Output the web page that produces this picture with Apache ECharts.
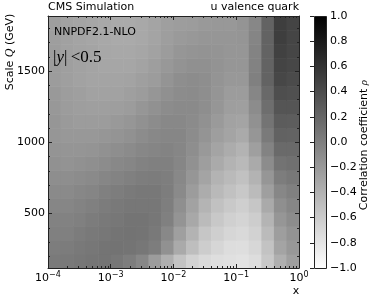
<!DOCTYPE html>
<html><head><meta charset="utf-8">
<script src="https://cdn.jsdelivr.net/npm/echarts@6/dist/echarts.min.js"></script>
<style>html,body{margin:0;padding:0;background:#fff}#c{width:374px;height:302px}</style>
</head><body><div id="c"></div>
<script>
// x bin edges (log spaced, 0.2 decade)
const xBinEdges = [0.0001, 0.0001585, 0.0002512, 0.0003981, 0.000631, 0.001, 0.001585, 0.002512, 0.003981, 0.00631, 0.01, 0.01585, 0.02512, 0.03981, 0.0631, 0.1, 0.1585, 0.2512, 0.3981, 0.631, 1];
// Q bin edges (GeV)
const qBinEdges = [118, 216, 314, 412, 510, 608, 706, 804, 902, 1000, 1098, 1196, 1294, 1392, 1490, 1588, 1686, 1784, 1884];
// correlation coefficient rows, one per Q bin (lowest Q first), one value per x bin
const rhoQ01 = [0.04,0.05,0.07,0.08,0.09,0.07,0.02,-0.06,-0.22,-0.37,-0.53,-0.65,-0.71,-0.74,-0.76,-0.77,-0.73,-0.57,-0.37,-0.25];
const rhoQ02 = [0.02,0.03,0.05,0.07,0.09,0.10,0.09,0.07,0.02,-0.14,-0.33,-0.49,-0.61,-0.68,-0.73,-0.74,-0.69,-0.53,-0.29,-0.19];
const rhoQ03 = [0.00,0.00,0.03,0.05,0.07,0.09,0.10,0.09,0.05,-0.07,-0.25,-0.40,-0.55,-0.62,-0.68,-0.70,-0.65,-0.47,-0.24,-0.15];
const rhoQ04 = [-0.02,-0.02,0.00,0.03,0.05,0.07,0.09,0.09,0.07,0.00,-0.16,-0.32,-0.47,-0.57,-0.63,-0.66,-0.61,-0.41,-0.18,-0.10];
const rhoQ05 = [-0.05,-0.05,-0.03,0.00,0.03,0.05,0.07,0.07,0.07,0.01,-0.12,-0.27,-0.41,-0.51,-0.58,-0.62,-0.55,-0.33,-0.12,-0.05];
const rhoQ06 = [-0.08,-0.08,-0.06,-0.04,0.00,0.02,0.04,0.06,0.06,0.02,-0.08,-0.22,-0.35,-0.45,-0.51,-0.57,-0.47,-0.25,-0.06,0.00];
const rhoQ07 = [-0.11,-0.11,-0.10,-0.08,-0.05,-0.03,0.00,0.02,0.03,0.01,-0.07,-0.18,-0.29,-0.40,-0.46,-0.51,-0.40,-0.18,0.02,0.06];
const rhoQ08 = [-0.14,-0.15,-0.14,-0.12,-0.10,-0.07,-0.05,-0.02,0.00,0.00,-0.05,-0.14,-0.24,-0.33,-0.40,-0.45,-0.33,-0.10,0.10,0.12];
const rhoQ09 = [-0.16,-0.17,-0.17,-0.16,-0.14,-0.11,-0.09,-0.06,-0.04,-0.03,-0.05,-0.11,-0.20,-0.29,-0.35,-0.40,-0.25,-0.03,0.17,0.17];
const rhoQ10 = [-0.18,-0.19,-0.19,-0.19,-0.18,-0.16,-0.14,-0.10,-0.07,-0.05,-0.05,-0.10,-0.16,-0.24,-0.29,-0.33,-0.18,0.04,0.23,0.22];
const rhoQ11 = [-0.18,-0.21,-0.22,-0.22,-0.22,-0.20,-0.18,-0.14,-0.10,-0.07,-0.07,-0.09,-0.14,-0.21,-0.27,-0.29,-0.14,0.09,0.28,0.27];
const rhoQ12 = [-0.19,-0.22,-0.24,-0.25,-0.25,-0.24,-0.22,-0.18,-0.14,-0.10,-0.08,-0.08,-0.11,-0.18,-0.24,-0.25,-0.10,0.14,0.33,0.33];
const rhoQ13 = [-0.20,-0.23,-0.25,-0.27,-0.27,-0.27,-0.25,-0.22,-0.18,-0.13,-0.10,-0.09,-0.11,-0.17,-0.22,-0.22,-0.05,0.18,0.39,0.37];
const rhoQ14 = [-0.22,-0.25,-0.27,-0.29,-0.29,-0.29,-0.28,-0.25,-0.22,-0.16,-0.11,-0.10,-0.11,-0.16,-0.19,-0.19,0.00,0.22,0.44,0.41];
const rhoQ15 = [-0.22,-0.25,-0.27,-0.29,-0.30,-0.30,-0.30,-0.28,-0.24,-0.19,-0.15,-0.13,-0.13,-0.15,-0.18,-0.18,-0.02,0.22,0.47,0.44];
const rhoQ16 = [-0.23,-0.26,-0.28,-0.29,-0.31,-0.32,-0.32,-0.30,-0.27,-0.22,-0.18,-0.16,-0.15,-0.16,-0.18,-0.18,-0.03,0.22,0.49,0.45];
const rhoQ17 = [-0.24,-0.26,-0.29,-0.30,-0.32,-0.33,-0.33,-0.32,-0.29,-0.24,-0.21,-0.19,-0.18,-0.18,-0.18,-0.17,-0.04,0.22,0.51,0.46];
const rhoQ18 = [-0.24,-0.27,-0.29,-0.30,-0.32,-0.33,-0.33,-0.32,-0.29,-0.25,-0.23,-0.22,-0.20,-0.19,-0.19,-0.16,-0.06,0.22,0.51,0.47];
const rhoRows = [rhoQ01,rhoQ02,rhoQ03,rhoQ04,rhoQ05,rhoQ06,rhoQ07,rhoQ08,rhoQ09,rhoQ10,rhoQ11,rhoQ12,rhoQ13,rhoQ14,rhoQ15,rhoQ16,rhoQ17,rhoQ18];
// minor tick positions
const xMinorTicks = [2e-4,3e-4,4e-4,5e-4,6e-4,7e-4,8e-4,9e-4,2e-3,3e-3,4e-3,5e-3,6e-3,7e-3,8e-3,9e-3,2e-2,3e-2,4e-2,5e-2,6e-2,7e-2,8e-2,9e-2,0.2,0.3,0.4,0.5,0.6,0.7,0.8,0.9];
const yMinorTicks = [200,300,400,600,700,800,900,1100,1200,1300,1400,1600,1700,1800];

const FONT = '"DejaVu Sans", sans-serif';
const SERIF = '"Liberation Serif", "DejaVu Serif", serif';

const cells = [];
rhoRows.forEach((row, k) => row.forEach((v, i) => cells.push([xBinEdges[i], qBinEdges[k], v, i, k])));
const minorData = xMinorTicks.map(v => [v, 1000, 0]).concat(yMinorTicks.map(q => [0.01, q, 1]));

const chart = echarts.init(document.getElementById('c'), null, {renderer: 'canvas'});
const axisCommon = {
  z: 5,
  axisLine: {show: true, onZero: false, lineStyle: {color: '#222', width: 1}},
  axisTick: {show: true, inside: true, length: 4, lineStyle: {color: '#222'}},
  splitLine: {show: false},
  minorTick: {show: false}
};
const supLabel = v => {
  const e = Math.round(Math.log10(v));
  return '{b|10}{s|' + (e < 0 ? '\u2212' : '') + Math.abs(e) + '}';
};
chart.setOption({
  animation: false,
  backgroundColor: '#fff',
  grid: [
    {left: 48, top: 16, width: 251, height: 252, show: false},
    {left: 314, top: 16, width: 12, height: 252, show: false}
  ],
  xAxis: [
    Object.assign({}, axisCommon, {gridIndex: 0, type: 'log', logBase: 10, min: 0.0001, max: 1, position: 'bottom',
      axisLabel: {margin: 3, color: '#000', formatter: supLabel,
        rich: {b: {fontSize: 11, fontFamily: FONT, color: '#000', lineHeight: 14}, s: {fontSize: 8, fontFamily: FONT, color: '#000', verticalAlign: 'top', lineHeight: 10}}}}),
    Object.assign({}, axisCommon, {gridIndex: 0, type: 'log', logBase: 10, min: 0.0001, max: 1, position: 'top', axisLabel: {show: false}}),
    {gridIndex: 1, type: 'value', min: 0, max: 1, show: false}
  ],
  yAxis: [
    Object.assign({}, axisCommon, {gridIndex: 0, type: 'value', min: 118, max: 1884, splitNumber: 4, position: 'left',
      axisLabel: {margin: 3, fontSize: 11, fontFamily: FONT, color: '#000', showMinLabel: false, showMaxLabel: false,
        formatter: v => String(Math.round(v))}}),
    Object.assign({}, axisCommon, {gridIndex: 0, type: 'value', min: 118, max: 1884, splitNumber: 4, position: 'right', axisLabel: {show: false}}),
    {gridIndex: 1, type: 'value', min: -1, max: 1, interval: 0.2, position: 'right', z: 5,
      axisLine: {show: false}, splitLine: {show: false},
      axisTick: {show: true, inside: true, length: 4, lineStyle: {color: '#222'}},
      axisLabel: {margin: 4, fontSize: 11, fontFamily: FONT, color: '#000',
        formatter: v => Math.abs(v) < 1e-9 ? '0.0' : (v < 0 ? '\u2212' : '') + Math.abs(v).toFixed(1)}}
  ],
  visualMap: {type: 'continuous', show: false, min: -1, max: 1, dimension: 2, seriesIndex: 0,
    inRange: {color: ['#ffffff', '#000000']}},
  series: [
    {type: 'custom', xAxisIndex: 0, yAxisIndex: 0, z: 2, data: cells, encode: {x: 0, y: 1},
      renderItem: (params, api) => {
        const i = api.value(3), k = api.value(4);
        const p0 = api.coord([xBinEdges[i], qBinEdges[k + 1]]);
        const p1 = api.coord([xBinEdges[i + 1], qBinEdges[k]]);
        return {type: 'rect', shape: {x: p0[0], y: p0[1], width: p1[0] - p0[0] + 0.6, height: p1[1] - p0[1] + 0.6},
          style: {fill: api.visual('color')}};
      }},
    {type: 'custom', xAxisIndex: 0, yAxisIndex: 0, z: 6, data: minorData, encode: {x: 0, y: 1},
      renderItem: (params, api) => {
        const cs = params.coordSys;
        const kind = api.value(2);
        const p = api.coord([api.value(0), api.value(1)]);
        const st = {stroke: '#222', lineWidth: 1};
        if (kind === 0) {
          const x = Math.round(p[0]) + 0.5;
          return {type: 'group', children: [
            {type: 'line', shape: {x1: x, y1: cs.y + cs.height, x2: x, y2: cs.y + cs.height - 2}, style: st},
            {type: 'line', shape: {x1: x, y1: cs.y, x2: x, y2: cs.y + 2}, style: st}
          ]};
        }
        const y = Math.round(p[1]) + 0.5;
        return {type: 'group', children: [
          {type: 'line', shape: {x1: cs.x, y1: y, x2: cs.x + 2, y2: y}, style: st},
          {type: 'line', shape: {x1: cs.x + cs.width, y1: y, x2: cs.x + cs.width - 2, y2: y}, style: st}
        ]};
      }},
    {type: 'custom', xAxisIndex: 2, yAxisIndex: 2, z: 2, data: [[0, -1]],
      renderItem: (params, api) => {
        const p0 = api.coord([0, 1]);
        const p1 = api.coord([1, -1]);
        return {type: 'rect', shape: {x: Math.round(p0[0]) + 0.5, y: Math.round(p0[1]) + 0.5, width: Math.round(p1[0] - p0[0]), height: Math.round(p1[1] - p0[1])},
          style: {fill: {type: 'linear', x: 0, y: 0, x2: 0, y2: 1, colorStops: [{offset: 0, color: '#000000'}, {offset: 1, color: '#ffffff'}]},
            stroke: '#222', lineWidth: 1}};
      }}
  ],
  graphic: [
    {type: 'text', x: 48, y: 2, style: {text: 'CMS Simulation', font: '11px ' + FONT, fill: '#000', align: 'left', verticalAlign: 'top'}},
    {type: 'text', x: 299, y: 2, style: {text: 'u valence quark', font: '11px ' + FONT, fill: '#000', align: 'right', verticalAlign: 'top'}},
    {type: 'text', x: 54, y: 27, z: 10, style: {text: 'NNPDF2.1-NLO', font: '11px ' + FONT, fill: '#000', align: 'left', verticalAlign: 'top'}},
    {type: 'text', x: 53, y: 58, z: 10, style: {text: '{n||}{i|y}{n||} {n|<0.5}', align: 'left', verticalAlign: 'middle',
      rich: {n: {fontFamily: SERIF, fontSize: 17, fill: '#000', color: '#000'}, i: {fontFamily: SERIF, fontSize: 17, fontStyle: 'italic', color: '#000'}}}},
    {type: 'text', x: 10, y: 52, rotation: Math.PI / 2, style: {text: 'Scale {i|Q} (GeV)', align: 'center', verticalAlign: 'middle',
      font: '11px ' + FONT, fill: '#000',
      rich: {i: {fontFamily: SERIF, fontSize: 12, fontStyle: 'italic', color: '#000'}}}},
    {type: 'text', x: 296, y: 291, style: {text: 'x', font: '11px ' + FONT, fill: '#000', align: 'center', verticalAlign: 'middle'}},
    {type: 'text', x: 364, y: 145, rotation: Math.PI / 2, style: {text: 'Correlation coefficient {i|\u03c1}', align: 'center', verticalAlign: 'middle',
      font: '11px ' + FONT, fill: '#000',
      rich: {i: {fontFamily: SERIF, fontSize: 11, fontStyle: 'italic', color: '#000'}}}}
  ]
});
</script></body></html>
